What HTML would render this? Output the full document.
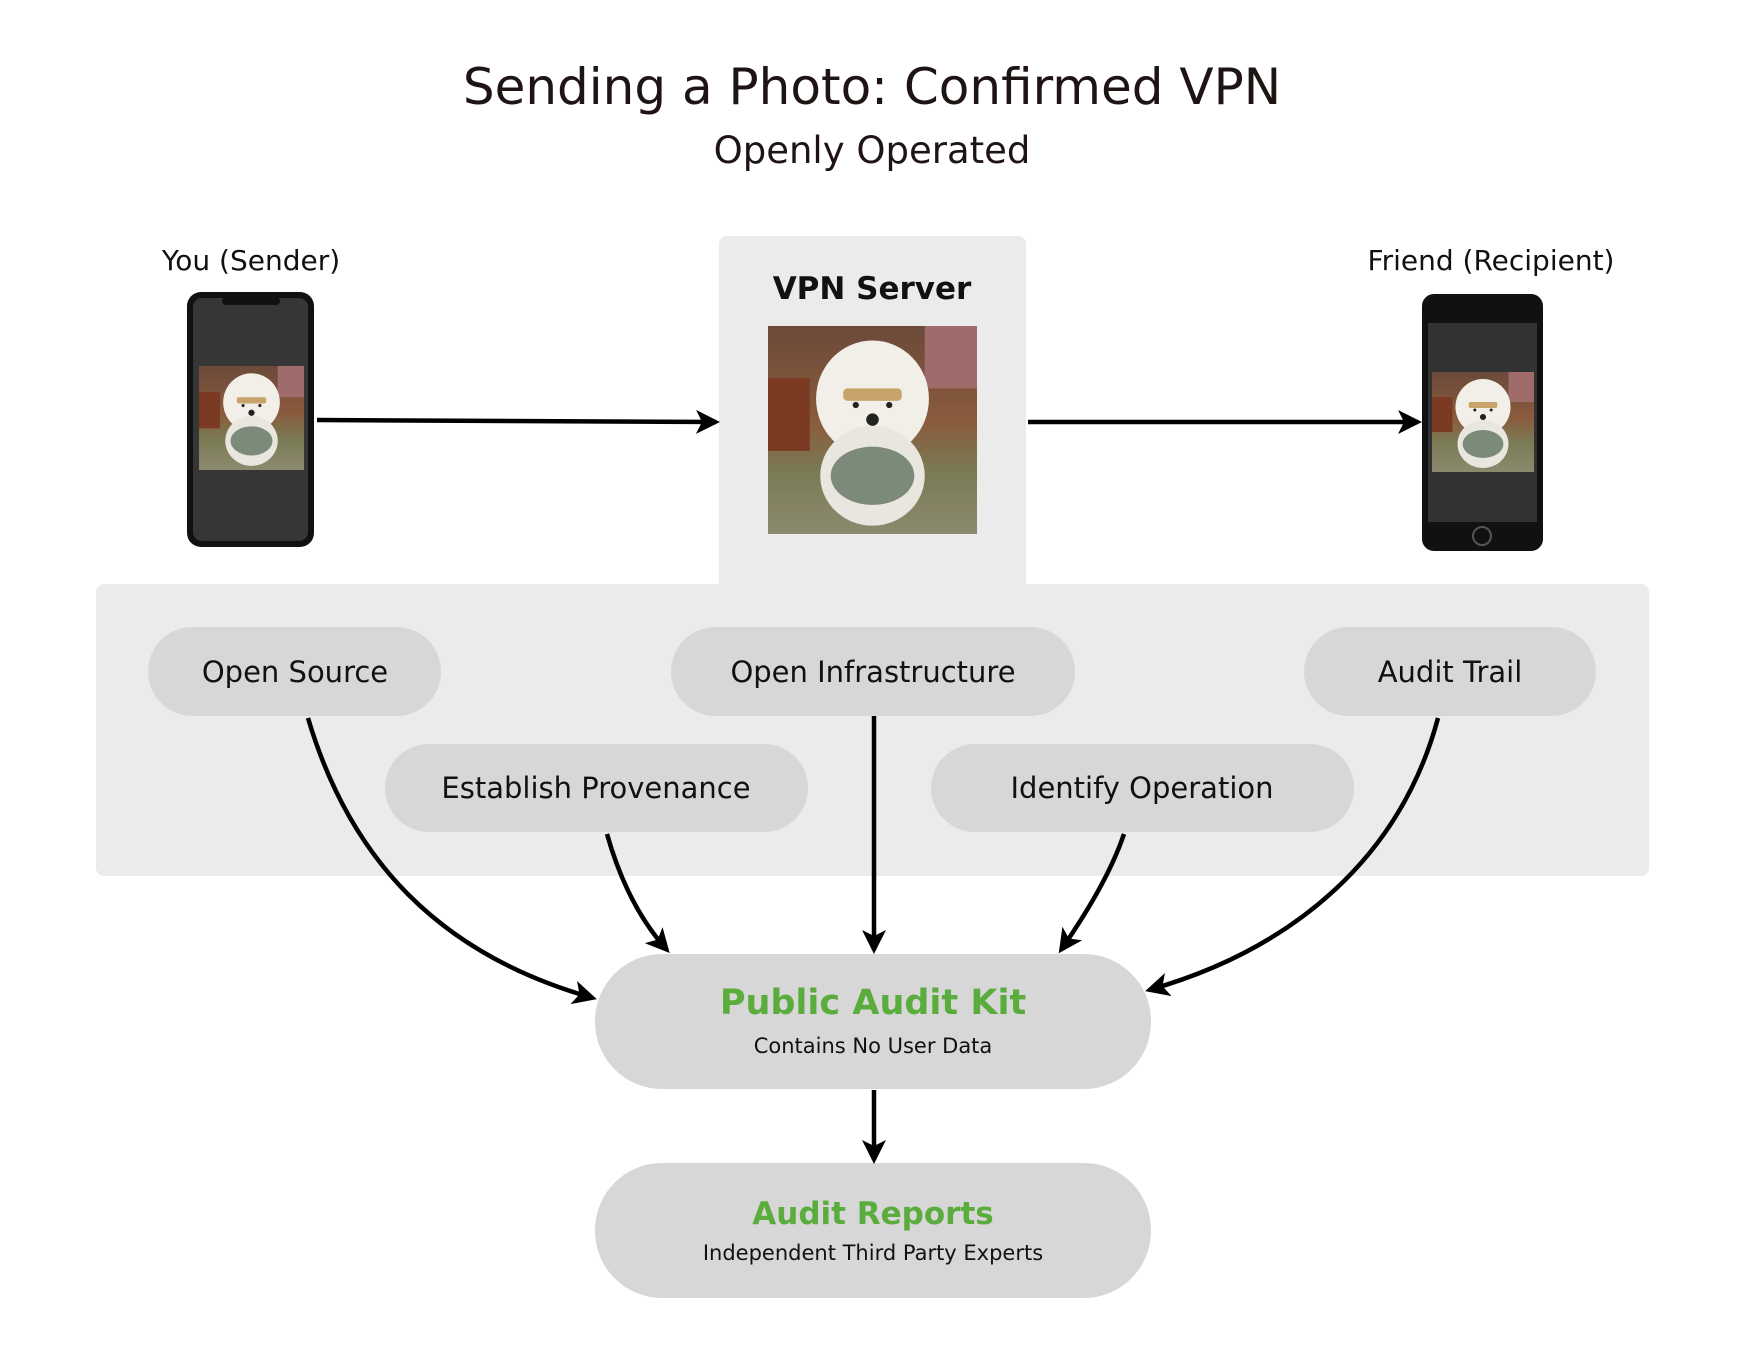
<!DOCTYPE html>
<html><head><meta charset="utf-8"><style>
html,body{margin:0;padding:0;background:#fff}
svg{display:block}
text{font-family:"DejaVu Sans","Liberation Sans",sans-serif}
</style></head><body>
<svg width="1750" height="1346" viewBox="0 0 1750 1346" xmlns="http://www.w3.org/2000/svg">
<defs>
<marker id="a" viewBox="0 0 12 12" refX="10" refY="6" markerWidth="24" markerHeight="24" markerUnits="userSpaceOnUse" orient="auto">
<path d="M0,0 L12,6 L0,12 L3,6 Z" fill="#000"/>
</marker>
<linearGradient id="floor" x1="0" y1="0" x2="0" y2="1">
<stop offset="0" stop-color="#6b4a3a"/><stop offset="0.45" stop-color="#8a5a3c"/><stop offset="0.7" stop-color="#7a7a55"/><stop offset="1" stop-color="#8c8a6e"/>
</linearGradient>
<g id="dog">
<rect x="0" y="0" width="100" height="100" fill="url(#floor)"/>
<rect x="75" y="0" width="25" height="30" fill="#a06b6b"/>
<rect x="0" y="25" width="20" height="35" fill="#7a3b22"/>
<ellipse cx="50" cy="35" rx="27" ry="28" fill="#f2efe8"/>
<ellipse cx="50" cy="72" rx="25" ry="24" fill="#e8e6df"/>
<ellipse cx="50" cy="72" rx="20" ry="14" fill="#7c8a7a"/>
<rect x="36" y="30" width="28" height="6" rx="2" fill="#c9a46a"/>
<circle cx="50" cy="45" r="3" fill="#222"/>
<circle cx="42" cy="38" r="1.5" fill="#222"/><circle cx="58" cy="38" r="1.5" fill="#222"/>
</g>
</defs>

<text x="872" y="104" font-size="50" text-anchor="middle" fill="#1e1414">Sending a Photo: Confirmed VPN</text>
<text x="872" y="163" font-size="37" text-anchor="middle" fill="#1e1414">Openly Operated</text>

<text x="251" y="270" font-size="28" text-anchor="middle" fill="#111">You (Sender)</text>
<text x="1491" y="270" font-size="28" text-anchor="middle" fill="#111">Friend (Recipient)</text>

<rect x="719" y="236" width="307" height="360" rx="8" fill="#ebebeb"/>
<rect x="96" y="584" width="1553" height="292" rx="8" fill="#ebebeb"/>
<text x="872" y="299" font-size="31" font-weight="bold" text-anchor="middle" fill="#111">VPN Server</text>
<g transform="translate(768,326) scale(2.09,2.08)"><use href="#dog"/></g>

<rect x="187" y="292" width="127" height="255" rx="14" fill="#111"/>
<rect x="193" y="298" width="115" height="243" rx="9" fill="#363636"/>
<rect x="222" y="297" width="58" height="8" rx="4" fill="#111"/>
<g transform="translate(199,366) scale(1.05,1.04)"><use href="#dog"/></g>

<rect x="1422" y="294" width="121" height="257" rx="12" fill="#111"/>
<rect x="1428" y="323" width="109" height="199" fill="#333"/>
<circle cx="1482" cy="536" r="9" fill="none" stroke="#555" stroke-width="2"/>
<g transform="translate(1432,372) scale(1.02,1.0)"><use href="#dog"/></g>

<line x1="317" y1="420" x2="716" y2="422" stroke="#000" stroke-width="4.5" marker-end="url(#a)"/>
<line x1="1028" y1="422" x2="1418" y2="422" stroke="#000" stroke-width="4.5" marker-end="url(#a)"/>

<g fill="#d7d7d7">
<rect x="148" y="627" width="293" height="89" rx="44.5"/>
<rect x="671" y="627" width="404" height="89" rx="44.5"/>
<rect x="1304" y="627" width="292" height="89" rx="44.5"/>
<rect x="385" y="744" width="423" height="88" rx="44"/>
<rect x="931" y="744" width="423" height="88" rx="44"/>
<rect x="595" y="954" width="556" height="135" rx="67"/>
<rect x="595" y="1163" width="556" height="135" rx="67"/>
</g>
<g font-size="29" text-anchor="middle" fill="#111">
<text x="295" y="682">Open Source</text>
<text x="873" y="682">Open Infrastructure</text>
<text x="1450" y="682">Audit Trail</text>
<text x="596" y="798">Establish Provenance</text>
<text x="1142" y="798">Identify Operation</text>
</g>
<text x="873" y="1014" font-size="35" font-weight="bold" text-anchor="middle" fill="#5aac3c">Public Audit Kit</text>
<text x="873" y="1053" font-size="21" text-anchor="middle" fill="#111">Contains No User Data</text>
<text x="873" y="1224" font-size="31" font-weight="bold" text-anchor="middle" fill="#5aac3c">Audit Reports</text>
<text x="873" y="1260" font-size="21" text-anchor="middle" fill="#111">Independent Third Party Experts</text>

<g stroke="#000" stroke-width="4.5" fill="none" marker-end="url(#a)">
<path d="M308 718 C 350 860, 440 955, 593 998"/>
<path d="M607 834 C 620 880, 640 920, 667 950"/>
<path d="M874 716 L874 950"/>
<path d="M1124 834 C 1110 875, 1085 915, 1061 950"/>
<path d="M1438 718 C 1400 860, 1290 950, 1149 990"/>
<path d="M874 1090 L874 1160"/>
</g>
</svg>
</body></html>
